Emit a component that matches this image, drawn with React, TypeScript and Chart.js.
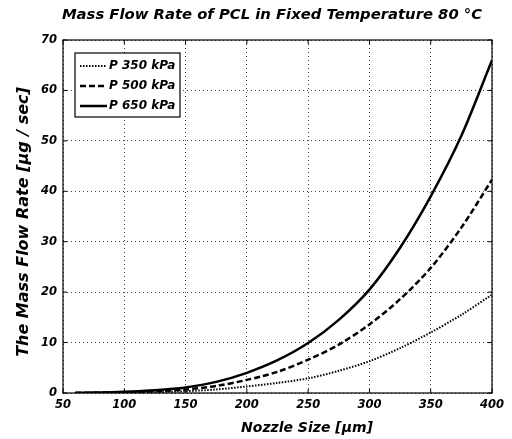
import React, { useEffect, useRef } from "react";
import { Chart, registerables } from "chart.js";

Chart.register(...registerables);

const nozzleSizes = [60, 75, 100, 125, 150, 175, 200, 225, 250, 275, 300, 325, 350, 375, 400];
const p350 = [0.01, 0.03, 0.08, 0.17, 0.35, 0.7, 1.3, 2.0, 2.9, 4.4, 6.3, 8.9, 12.0, 15.5, 19.5];
const p500 = [0.02, 0.05, 0.16, 0.35, 0.7, 1.4, 2.6, 4.2, 6.6, 9.6, 13.6, 18.6, 24.8, 32.8, 42.3];
const p650 = [0.03, 0.08, 0.25, 0.55, 1.1, 2.2, 4.0, 6.5, 9.9, 14.5, 20.5, 28.8, 39.0, 51.0, 66.0];
const seriesLabels = ["P 350 kPa", "P 500 kPa", "P 650 kPa"];
const xTicks = [50, 100, 150, 200, 250, 300, 350, 400];
const yTicks = [0, 10, 20, 30, 40, 50, 60, 70];
const titleText = "Mass Flow Rate of PCL in Fixed Temperature 80 °C";
const xTitle = "Nozzle Size [µm]";
const yTitle = "The Mass Flow Rate [µg / sec]";

const FONT = "'DejaVu Sans', 'Liberation Sans', sans-serif";

const decorPlugin = {
  id: "decor",
  afterDraw(chart: any) {
    const { ctx, chartArea: a, scales } = chart;
    const xs = scales.x;
    const ys = scales.y;
    ctx.save();
    ctx.strokeStyle = "#000";
    ctx.lineWidth = 1.2;
    ctx.setLineDash([]);
    ctx.strokeRect(a.left, a.top, a.right - a.left, a.bottom - a.top);
    ctx.lineWidth = 1;
    const tl = 4;
    xTicks.forEach((v) => {
      const px = xs.getPixelForValue(v);
      ctx.beginPath();
      ctx.moveTo(px, a.bottom);
      ctx.lineTo(px, a.bottom - tl);
      ctx.moveTo(px, a.top);
      ctx.lineTo(px, a.top + tl);
      ctx.stroke();
    });
    yTicks.forEach((v) => {
      const py = ys.getPixelForValue(v);
      ctx.beginPath();
      ctx.moveTo(a.left, py);
      ctx.lineTo(a.left + tl, py);
      ctx.moveTo(a.right, py);
      ctx.lineTo(a.right - tl, py);
      ctx.stroke();
    });
    ctx.fillStyle = "#000";
    ctx.textAlign = "center";
    ctx.textBaseline = "middle";
    ctx.font = `italic bold 14.8px ${FONT}`;
    ctx.fillText(titleText, 272, 15);
    ctx.font = `italic bold 14px ${FONT}`;
    ctx.fillText(xTitle, 307, 428);
    ctx.save();
    ctx.translate(24, 222);
    ctx.rotate(-Math.PI / 2);
    ctx.font = `italic bold 16px ${FONT}`;
    ctx.fillText(yTitle, 0, 0);
    ctx.restore();
    const lx = 75, ly = 53, lw = 105, lh = 64;
    ctx.fillStyle = "#fff";
    ctx.fillRect(lx, ly, lw, lh);
    ctx.strokeStyle = "#000";
    ctx.lineWidth = 1.2;
    ctx.strokeRect(lx, ly, lw, lh);
    chart.data.datasets.forEach((ds: any, i: number) => {
      const cy = ly + 13 + i * 20;
      ctx.beginPath();
      ctx.setLineDash(ds.borderDash || []);
      ctx.lineWidth = ds.borderWidth;
      ctx.strokeStyle = ds.borderColor;
      ctx.moveTo(lx + 5, cy);
      ctx.lineTo(lx + 32, cy);
      ctx.stroke();
      ctx.setLineDash([]);
      ctx.fillStyle = "#000";
      ctx.textAlign = "left";
      ctx.font = `italic bold 12px ${FONT}`;
      ctx.fillText(ds.label, lx + 34, cy);
    });
    ctx.restore();
  },
};

export default function App() {
  const ref = useRef<HTMLCanvasElement>(null);
  useEffect(() => {
    if (!ref.current) return;
    const mk = (arr: number[]) => nozzleSizes.map((x, i) => ({ x, y: arr[i] }));
    const chart = new Chart(ref.current, {
      type: "line",
      data: {
        datasets: [
          { label: seriesLabels[0], data: mk(p350), borderColor: "#000", borderWidth: 2, borderDash: [1.5, 1.5], pointRadius: 0, tension: 0.3, fill: false },
          { label: seriesLabels[1], data: mk(p500), borderColor: "#000", borderWidth: 2.5, borderDash: [6, 3], pointRadius: 0, tension: 0.3, fill: false },
          { label: seriesLabels[2], data: mk(p650), borderColor: "#000", borderWidth: 2.5, borderDash: [], pointRadius: 0, tension: 0.3, fill: false },
        ],
      },
      options: {
        animation: false,
        responsive: false,
        layout: { padding: { top: 40, right: 20, left: 0, bottom: 0 } },
        plugins: { legend: { display: false }, title: { display: false }, tooltip: { enabled: false } },
        scales: {
          x: {
            type: "linear",
            min: 50,
            max: 400,
            afterBuildTicks: (s: any) => { s.ticks = xTicks.map((v) => ({ value: v })); },
            afterFit: (s: any) => { s.height = 46; },
            border: { display: false, dash: [1, 3] },
            grid: { color: "#444", lineWidth: 1, drawTicks: false },
            ticks: { color: "#000", padding: 5, maxRotation: 0, font: { family: FONT, size: 11.5, style: "italic", weight: "bold" } },
          },
          y: {
            type: "linear",
            min: 0,
            max: 70,
            afterBuildTicks: (s: any) => { s.ticks = yTicks.map((v) => ({ value: v })); },
            afterFit: (s: any) => { s.width = 63; },
            border: { display: false, dash: [1, 3] },
            grid: { color: "#444", lineWidth: 1, drawTicks: false },
            ticks: { color: "#000", padding: 6, font: { family: FONT, size: 11.5, style: "italic", weight: "bold" } },
          },
        },
      } as any,
      plugins: [decorPlugin],
    });
    return () => chart.destroy();
  }, []);
  return (
    <div style={{ position: "absolute", left: 0, top: 0, width: 512, height: 439, background: "#fff" }}>
      <canvas ref={ref} width={512} height={439} style={{ width: 512, height: 439 }} />
    </div>
  );
}
